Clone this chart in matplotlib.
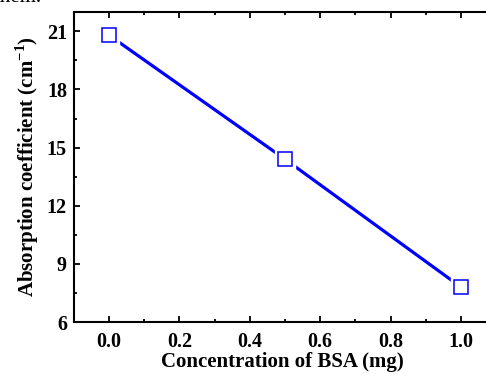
"""Absorption coefficient vs BSA concentration"""
import matplotlib
matplotlib.use('Agg')
from matplotlib import pyplot as plt
from matplotlib.ticker import MultipleLocator

# Data.
bsa_mg = [0.0, 0.5, 1.0]
absorption = [20.8, 14.4, 7.8]
x_ticks = [0.0, 0.2, 0.4, 0.6, 0.8, 1.0]
y_ticks = [6, 9, 12, 15, 18, 21]

plt.rcParams['font.family'] = 'Liberation Serif'
plt.rcParams['font.weight'] = 'bold'
plt.rcParams['mathtext.fontset'] = 'custom'
plt.rcParams['mathtext.rm'] = 'Liberation Serif:bold'
plt.rcParams['mathtext.bf'] = 'Liberation Serif:bold'

fig = plt.figure(dpi=100, figsize=(4.86, 3.74))
ax = fig.add_axes([0.152, 0.139, 0.86, 0.829])

# Line, white pad round markers (gap), then open squares.
ax.plot(bsa_mg, absorption, color='#0000ff', lw=2.3, zorder=2)
ax.plot(bsa_mg, absorption, ls='none', marker='s', ms=14, mfc='white',
        mec='white', zorder=3)
ax.plot(bsa_mg, absorption, ls='none', marker='s', ms=9.4, mfc='white',
        mec='#0000ff', mew=1.1, zorder=4, clip_on=False)

# Format plot.
ax.set_xlim(-0.1, 1.0875)
ax.set_ylim(6, 22)
ax.set_xticks(x_ticks)
ax.set_yticks(y_ticks)
ax.set_xticklabels(['%.1f' % t for t in x_ticks])
ax.xaxis.set_minor_locator(MultipleLocator(0.1))
ax.yaxis.set_minor_locator(MultipleLocator(1.5))
ax.tick_params(which='both', direction='in', top=True, right=True,
               labelsize=14.5, width=1.3)
ax.tick_params(axis='x', pad=7)
ax.tick_params(axis='y', pad=5)
ax.tick_params(which='major', length=4.5)
ax.tick_params(which='minor', length=2.5)
for side in ax.spines.values():
    side.set_linewidth(1.5)

ax.set_xlabel('Concentration of BSA (mg)', fontsize=15, fontweight='bold',
              labelpad=0)
ax.set_ylabel(r'Absorption coefficient (cm$^{-1}$)', fontsize=15,
              fontweight='bold', labelpad=4)

# Clipped text of the surrounding page.
fig.text(-0.01, 0.982, 'them.', fontsize=15, fontweight='normal',
         va='bottom', ha='left')

fig.savefig('out.png', dpi=100)
